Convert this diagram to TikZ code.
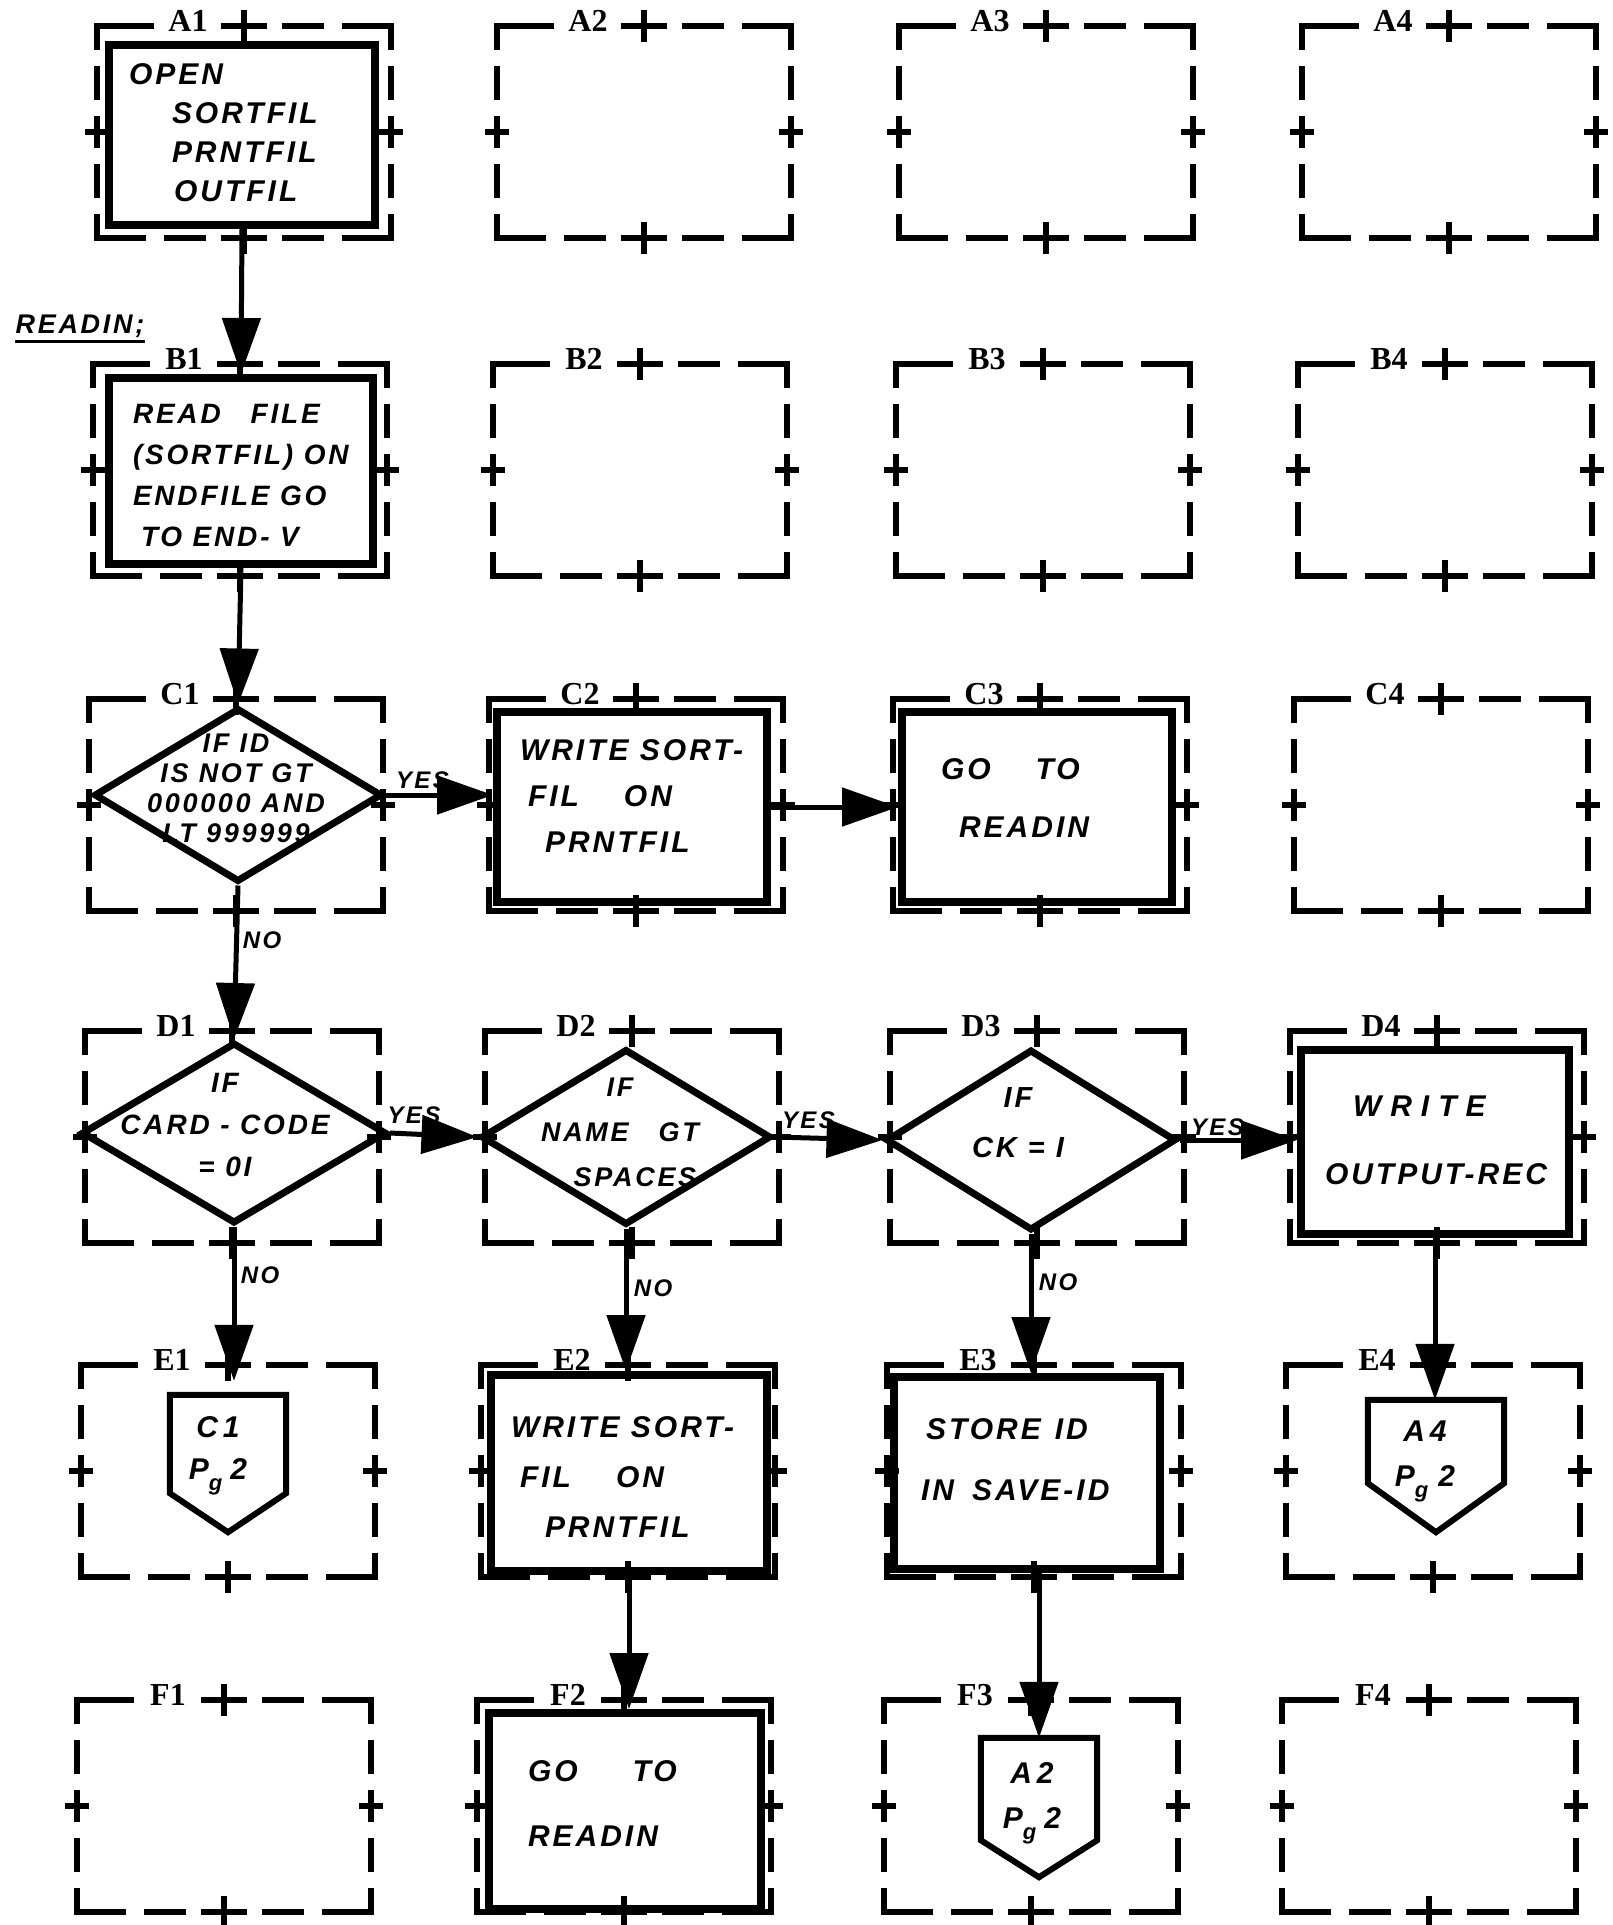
\documentclass[tikz,border=0pt]{standalone}
\usepackage{fontspec}
\setmainfont{Liberation Sans}
\newfontfamily\handfont{Liberation Sans}[LetterSpace=10]
\newfontfamily\labfont{Liberation Serif}
\usetikzlibrary{arrows.meta,shapes.geometric,calc}
\newcommand\hf[2]{\handfont\bfseries\itshape\fontsize{#1}{#2}\selectfont}
\newcommand\ltext[3]{\smash{\makebox[0pt][l]{\hspace*{#1}\raisebox{#2}{\begin{tabular}{@{}l@{}}#3\end{tabular}}}}}
\newcommand\ctext[3]{\smash{\makebox[0pt]{\hspace*{#1}\raisebox{#2}{\begin{tabular}{@{}c@{}}#3\end{tabular}}\hspace*{-#1}}}}
\newcommand\Pg{P\raisebox{-11pt}{\fontsize{22}{22}\selectfont g}}
\tikzset{
 gline/.style={line width=5.5pt},
 glabel/.style={font=\labfont\bfseries\fontsize{32}{32}\selectfont, inner sep=0pt},
 proc/.style={draw, rectangle, line width=8pt, inner sep=0pt},
 dec/.style={draw, diamond, line width=7pt, inner sep=0pt, aspect=1},
 offpg/.style={rectangle, inner sep=0pt},
 pent/.style={line width=6pt, line join=miter},
 flow/.style={line width=5pt, -{Triangle[length=56pt,width=38pt]}},
 yn/.style={font=\hf{24}{24}, inner sep=0pt},
}
\newcommand\gbox[3]{%
 \begin{scope}[shift={(#1,#2)}]
  \draw[gline] (-147,-82) -- (-147,-106) -- (-90,-106);
  \draw[gline] (-23,-106) -- (23,-106);
  \draw[gline] (0,-122) -- (0,-90);
  \draw[gline] (38,-106) -- (80,-106);
  \draw[gline] (98,-106) -- (147,-106) -- (147,-82);
  \draw[gline] (147,-66) -- (147,-32);
  \draw[gline] (147,-16) -- (147,16);
  \draw[gline] (135,0) -- (159,0);
  \draw[gline] (147,32) -- (147,66);
  \draw[gline] (147,82) -- (147,106) -- (98,106);
  \draw[gline] (80,106) -- (38,106);
  \draw[gline] (-23,106) -- (23,106);
  \draw[gline] (0,90) -- (0,122);
  \draw[gline] (-38,106) -- (-80,106);
  \draw[gline] (-98,106) -- (-147,106) -- (-147,82);
  \draw[gline] (-147,66) -- (-147,32);
  \draw[gline] (-147,16) -- (-147,-16);
  \draw[gline] (-159,0) -- (-135,0);
  \draw[gline] (-147,-32) -- (-147,-66);
  \node[glabel] (lbl#3) at (-56,-111) {#3};
 \end{scope}}
\begin{document}
\begin{tikzpicture}[x=1pt,y=-1pt]
\fill[white] (0,0) rectangle (1612,1925);
\useasboundingbox (0,0) rectangle (1612,1925);

% grid of cells
\gbox{244}{132}{A1}\gbox{644}{132}{A2}\gbox{1046}{132}{A3}\gbox{1449}{132}{A4}
\gbox{240}{470}{B1}\gbox{640}{470}{B2}\gbox{1043}{470}{B3}\gbox{1445}{470}{B4}
\gbox{236}{805}{C1}\gbox{636}{805}{C2}\gbox{1040}{805}{C3}\gbox{1441}{805}{C4}
\gbox{232}{1137}{D1}\gbox{632}{1137}{D2}\gbox{1037}{1137}{D3}\gbox{1437}{1137}{D4}
\gbox{228}{1471}{E1}\gbox{628}{1471}{E2}\gbox{1034}{1471}{E3}\gbox{1433}{1471}{E4}
\gbox{224}{1806}{F1}\gbox{624}{1806}{F2}\gbox{1031}{1806}{F3}\gbox{1429}{1806}{F4}

% READIN label
\node[font=\hf{27}{27}, inner sep=0pt] (readin) at (80,326) {READIN;};
\draw[line width=2.5pt] ([yshift=-4pt]readin.south west) -- ([yshift=-4pt]readin.south east);

% flowchart symbols
\node[proc, minimum width=266pt, minimum height=180pt, font=\hf{30}{39}] (a1) at (242,135)
  {\ltext{-113pt}{-6pt}{OPEN\\\hspace*{43pt}SORTFIL\\\hspace*{43pt}PRNTFIL\\\hspace*{45pt}OUTFIL}};
\node[proc, minimum width=264pt, minimum height=186pt, font=\hf{28}{41}] (b1) at (241,471)
  {\ltext{-108pt}{-12pt}{READ\hspace*{30pt}FILE\\(SORTFIL) ON\\ENDFILE GO\\\hspace*{8pt}TO END- V}};
\node[dec, minimum width=288pt, minimum height=174pt, font=\hf{27}{30}] (c1) at (238,795)
  {\ctext{-2pt}{-3pt}{IF ID\\IS NOT GT\\000000 AND\\LT 999999}};
\node[proc, minimum width=270pt, minimum height=190pt, font=\hf{30}{46}] (c2) at (632,807)
  {\ltext{-112pt}{3pt}{WRITE SORT-\\\hspace*{8pt}FIL\hspace*{45pt}ON\\\hspace*{25pt}PRNTFIL}};
\node[proc, minimum width=270pt, minimum height=190pt, font=\hf{30}{58}] (c3) at (1037,807)
  {\ltext{-96pt}{4pt}{GO\hspace*{45pt}TO\\\hspace*{18pt}READIN}};
\node[dec, minimum width=305pt, minimum height=181pt, font=\hf{28}{42}] (d1) at (234,1133)
  {\ctext{-9pt}{1pt}{IF\\CARD - CODE\\= 0I}};
\node[dec, minimum width=290pt, minimum height=176pt, font=\hf{27}{45}] (d2) at (626,1137)
  {\ctext{-6pt}{-2pt}{IF\\NAME\hspace*{30pt}GT\\\hspace*{30pt}SPACES}};
\node[dec, minimum width=290pt, minimum height=181pt, font=\hf{29}{50}] (d3) at (1031,1140)
  {\ctext{-13pt}{11pt}{IF\\CK = I}};
\node[proc, minimum width=268pt, minimum height=184pt, font=\hf{30}{68}] (d4) at (1435,1142)
  {\ltext{-110pt}{-1pt}{\hspace*{28pt}{\addfontfeature{LetterSpace=30}WRITE}\\OUTPUT-REC}};
\node[offpg, minimum width=116pt, minimum height=137pt, font=\hf{30}{42}] (e1) at (228,1463.5)
  {\ctext{-10pt}{6pt}{C\,1\\\Pg\hspace*{8pt}2}};
\node[proc, minimum width=276pt, minimum height=196pt, font=\hf{30}{50}] (e2) at (629,1473)
  {\ltext{-118pt}{-11pt}{WRITE SORT-\\\hspace*{9pt}FIL\hspace*{45pt}ON\\\hspace*{34pt}PRNTFIL}};
\node[proc, minimum width=266pt, minimum height=192pt, font=\hf{30}{61}] (e3) at (1027,1473)
  {\ltext{-106pt}{9pt}{\hspace*{5pt}STORE\hspace*{14pt}ID\\IN\hspace*{18pt}SAVE-ID}};
\node[offpg, minimum width=136pt, minimum height=132pt, font=\hf{30}{45}] (e4) at (1436,1466)
  {\ctext{-11pt}{4pt}{A\,4\\\Pg\hspace*{10pt}2}};
\node[proc, minimum width=272pt, minimum height=196pt, font=\hf{30}{65}] (f2) at (625,1811)
  {\ltext{-97pt}{4pt}{GO\hspace*{55pt}TO\\READIN}};
\node[offpg, minimum width=116pt, minimum height=139pt, font=\hf{30}{45}] (f3) at (1039,1807.5)
  {\ctext{-7pt}{3pt}{A\,2\\\Pg\hspace*{8pt}2}};

% off-page connector outlines
\foreach \n/\d in {e1/39pt, e4/49pt, f3/37pt}{
  \draw[pent] (\n.north west) -- (\n.north east) -- ([yshift=\d]\n.south east)
    -- (\n.south) -- ([yshift=\d]\n.south west) -- cycle;
}

% connectors
\draw[flow] (a1.south) -- (b1.north);
\draw[flow] (b1.south) -- (c1.north);
\draw[flow] (c1.east) -- (c1.east -| c2.west)
  node[yn, pos=0, xshift=37pt, yshift=15pt] (yes1) {YES};
\draw[flow] (c2.east) -- (c3.west);
\draw[flow] (c1.south) -- (d1.north)
  node[yn, pos=0, xshift=24pt, yshift=-55pt] (no1) {NO};
\draw[flow] (d1.east) -- (d2.west)
  node[yn, pos=0, xshift=24pt, yshift=18pt] (yes2) {YES};
\draw[flow] (d2.east) -- (d3.west)
  node[yn, pos=0, xshift=34pt, yshift=17pt] (yes3) {YES};
\draw[flow] (d3.east) -- (d3.east -| d4.west)
  node[yn, pos=0, xshift=38pt, yshift=13pt] (yes4) {YES};
\draw[flow, shorten >=14pt] (d1.south) -- (d1.south |- e1.north)
  node[yn, pos=0, xshift=26pt, yshift=-48pt] (no2) {NO};
\draw[flow] (d2.south) -- (d2.south |- e2.north)
  node[yn, pos=0, xshift=27pt, yshift=-60pt] (no3) {NO};
\draw[flow] (d3.south) -- (d3.south |- e3.north)
  node[yn, pos=0, xshift=27pt, yshift=-48pt] (no4) {NO};
\draw[flow] (d4.south) -- (d4.south |- e4.north);
\draw[flow] (e2.south) -- (e2.south |- f2.north);
\draw[flow] (e3.south -| f3.north) -- (f3.north);
\end{tikzpicture}
\end{document}
